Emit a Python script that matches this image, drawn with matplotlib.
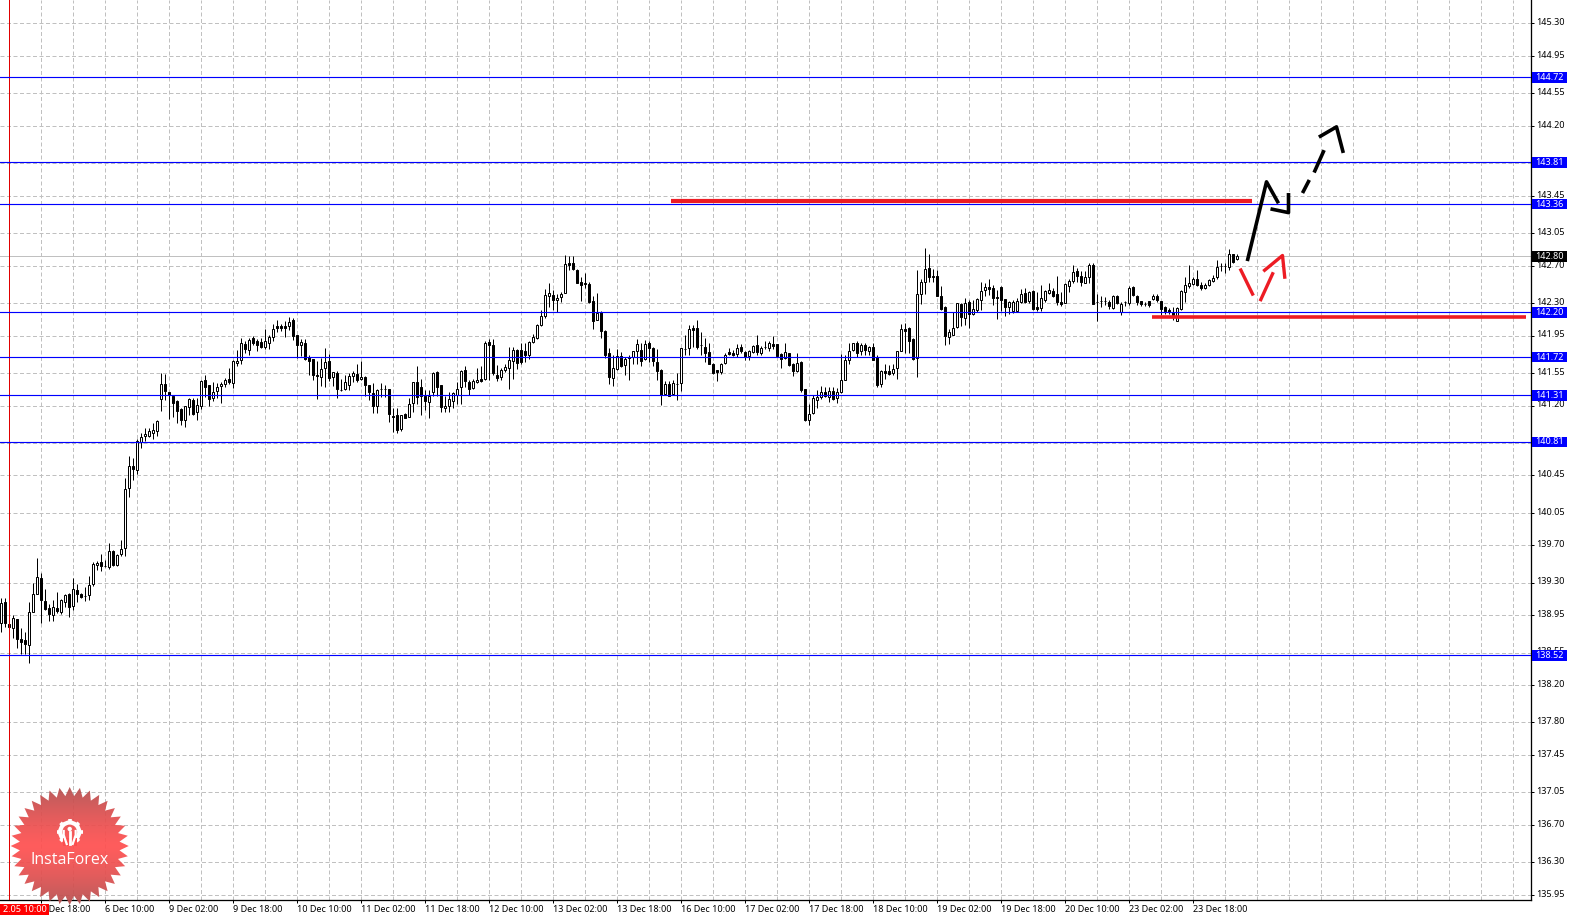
import numpy as np
import matplotlib
matplotlib.use('Agg')
import matplotlib.pyplot as plt
from matplotlib.patches import Polygon, Rectangle, Circle
from matplotlib.transforms import ScaledTranslation

plt.rcParams['font.family'] = ['Noto Sans', 'DejaVu Sans']

opens = [
    138.87,139.09,138.86,138.81,138.91,138.69,138.68,138.63,138.99,139.18,
    139.35,139.10,139.03,138.95,139.03,138.99,139.09,139.18,139.05,139.22,
    139.18,139.16,139.17,139.28,139.49,139.52,139.48,139.47,139.64,139.49,
    139.61,139.67,140.31,140.55,140.51,140.81,140.87,140.87,140.91,140.93,
    141.27,141.43,141.35,141.30,141.25,141.16,141.04,141.18,141.26,141.13,
    141.20,141.47,141.42,141.28,141.36,141.41,141.43,141.48,141.44,141.66,
    141.69,141.86,141.80,141.92,141.89,141.88,141.83,141.87,141.94,142.05,
    142.05,142.05,142.05,142.12,141.96,141.85,141.87,141.72,141.70,141.53,
    141.51,141.60,141.68,141.51,141.55,141.37,141.38,141.42,141.52,141.54,
    141.48,141.51,141.42,141.33,141.19,141.38,141.38,141.38,141.09,141.10,
    140.95,141.11,141.08,141.23,141.45,141.40,141.30,141.24,141.34,141.56,
    141.42,141.17,141.19,141.25,141.31,141.40,141.58,141.45,141.39,141.45,
    141.48,141.48,141.88,141.85,141.53,141.51,141.58,141.60,141.68,141.80,
    141.80,141.79,141.74,141.88,141.92,142.06,142.16,142.38,142.39,142.33,
    142.36,142.41,142.73,142.73,142.65,142.53,142.51,142.50,142.32,142.12,
    142.20,142.00,141.76,141.50,141.59,141.73,141.64,141.72,141.72,141.79,
    141.80,141.70,141.87,141.82,141.67,141.58,141.32,141.43,141.32,141.43,
    141.44,141.81,141.82,142.03,142.03,141.85,141.83,141.77,141.65,141.58,
    141.56,141.66,141.77,141.76,141.75,141.83,141.77,141.73,141.77,141.85,
    141.76,141.83,141.82,141.86,141.86,141.75,141.71,141.76,141.65,141.57,
    141.67,141.38,141.04,141.12,141.26,141.29,141.34,141.29,141.36,141.28,
    141.34,141.47,141.69,141.80,141.87,141.78,141.85,141.78,141.83,141.72,
    141.43,141.57,141.57,141.55,141.60,141.79,142.02,142.03,141.91,141.71,
    142.40,142.53,142.68,142.58,142.59,142.37,142.26,141.94,141.96,142.04,
    142.29,142.14,142.31,142.18,142.23,142.33,142.44,142.47,142.46,142.36,
    142.47,142.34,142.26,142.21,142.21,142.31,142.41,142.32,142.43,142.26,
    142.25,142.33,142.41,142.43,142.40,142.31,142.30,142.48,142.54,142.64,
    142.59,142.52,142.58,142.71,142.31,142.32,142.32,142.31,142.25,142.38,
    142.20,142.31,142.30,142.47,142.38,142.32,142.29,142.32,142.34,142.38,
    142.32,142.26,142.23,142.20,142.11,142.24,142.42,142.48,142.50,142.56,
    142.49,142.46,142.49,142.54,142.58,142.70,142.70,142.69,142.83,142.77,
]
highs = [
    139.13,139.14,138.97,138.95,138.91,138.81,138.77,139.09,139.30,139.56,
    139.40,139.23,139.07,139.11,139.20,139.12,139.18,139.19,139.35,139.28,
    139.19,139.25,139.37,139.52,139.53,139.61,139.54,139.72,139.65,139.61,
    139.76,140.42,140.66,140.64,140.84,140.91,140.96,140.96,141.01,141.05,
    141.55,141.54,141.35,141.30,141.26,141.17,141.20,141.28,141.28,141.28,
    141.47,141.53,141.42,141.45,141.44,141.45,141.50,141.60,141.69,141.80,
    141.92,141.89,141.92,141.95,141.91,141.92,142.02,141.96,142.07,142.12,
    142.07,142.11,142.15,142.14,141.96,141.91,141.91,141.74,141.70,141.68,
    141.71,141.82,141.75,141.56,141.57,141.49,141.53,141.55,141.57,141.65,
    141.68,141.52,141.42,141.44,141.38,141.44,141.42,141.38,141.17,141.17,
    141.10,141.12,141.28,141.45,141.62,141.49,141.37,141.37,141.56,141.57,
    141.42,141.30,141.35,141.34,141.45,141.58,141.62,141.47,141.48,141.60,
    141.62,141.89,141.91,141.91,141.64,141.60,141.65,141.83,141.83,141.81,
    141.87,141.87,141.89,141.97,142.08,142.23,142.45,142.51,142.44,142.40,
    142.42,142.81,142.80,142.80,142.67,142.58,142.62,142.53,142.37,142.41,
    142.21,142.01,141.82,141.74,141.81,141.77,141.72,141.74,141.78,141.91,
    141.87,141.90,141.89,141.83,141.81,141.59,141.46,141.46,141.47,141.55,
    141.82,141.96,142.06,142.06,142.12,141.99,141.92,141.87,141.66,141.58,
    141.66,141.76,141.82,141.80,141.86,141.86,141.78,141.80,141.85,141.96,
    141.84,141.89,141.89,141.95,141.86,141.76,141.87,141.76,141.66,141.76,
    141.68,141.38,141.22,141.31,141.37,141.41,141.40,141.40,141.40,141.39,
    141.75,141.74,141.87,141.87,141.89,141.87,141.87,141.84,141.87,141.74,
    141.58,141.65,141.63,141.65,141.79,142.08,142.09,142.04,141.92,142.65,
    142.56,142.89,142.83,142.67,142.65,142.48,142.27,142.02,142.20,142.30,
    142.30,142.35,142.33,142.33,142.35,142.53,142.51,142.56,142.49,142.44,
    142.48,142.34,142.32,142.33,142.35,142.45,142.46,142.43,142.44,142.42,
    142.49,142.44,142.51,142.46,142.59,142.42,142.51,142.56,142.71,142.68,
    142.64,142.64,142.73,142.73,142.40,142.37,142.36,142.33,142.39,142.39,
    142.31,142.32,142.48,142.48,142.39,142.32,142.31,142.32,142.40,142.40,
    142.32,142.27,142.25,142.26,142.26,142.44,142.58,142.71,142.58,142.65,
    142.53,142.51,142.56,142.60,142.76,142.73,142.73,142.88,142.83,142.83,
]
lows = [
    138.77,138.82,138.81,138.71,138.60,138.53,138.53,138.44,138.99,139.18,
    138.87,139.01,138.89,138.89,138.97,138.96,139.04,138.93,139.01,139.09,
    139.13,139.10,139.11,139.26,139.44,139.42,139.47,139.45,139.48,139.48,
    139.59,139.59,140.22,140.40,140.47,140.74,140.82,140.86,140.84,140.87,
    141.14,141.26,141.06,141.08,141.01,140.99,140.97,141.10,141.10,141.04,
    141.16,141.29,141.20,141.25,141.28,141.23,141.40,141.43,141.39,141.62,
    141.65,141.76,141.74,141.85,141.78,141.82,141.81,141.81,141.89,141.99,
    142.00,141.94,142.01,141.90,141.71,141.73,141.69,141.53,141.47,141.27,
    141.41,141.40,141.46,141.41,141.28,141.36,141.37,141.37,141.45,141.45,
    141.47,141.30,141.26,141.12,141.12,141.29,141.29,141.02,140.92,140.91,
    140.93,141.07,141.08,141.13,141.22,141.10,141.15,141.07,141.30,141.30,
    141.13,141.13,141.13,141.17,141.22,141.22,141.40,141.31,141.38,141.44,
    141.45,141.47,141.47,141.53,141.46,141.47,141.56,141.38,141.49,141.59,
    141.65,141.67,141.70,141.87,141.91,142.05,142.14,142.26,142.22,142.20,
    142.31,142.41,142.65,142.65,142.51,142.32,142.46,142.30,142.02,142.12,
    141.92,141.71,141.43,141.41,141.58,141.61,141.53,141.47,141.65,141.65,
    141.62,141.69,141.67,141.62,141.47,141.21,141.31,141.30,141.31,141.26,
    141.36,141.74,141.74,141.83,141.81,141.74,141.67,141.65,141.54,141.46,
    141.54,141.65,141.74,141.73,141.72,141.76,141.69,141.69,141.76,141.74,
    141.74,141.81,141.78,141.81,141.72,141.60,141.70,141.62,141.52,141.56,
    141.35,141.03,140.99,141.11,141.17,141.27,141.29,141.24,141.26,141.23,
    141.33,141.47,141.65,141.79,141.72,141.74,141.74,141.74,141.69,141.40,
    141.40,141.49,141.53,141.53,141.49,141.78,141.76,141.76,141.69,141.51,
    142.29,142.40,142.53,142.53,142.38,142.22,141.85,141.86,141.96,142.03,
    142.05,142.06,142.03,142.17,142.20,142.22,142.37,142.39,142.28,142.13,
    142.21,142.16,142.18,142.19,142.20,142.30,142.30,142.30,142.22,142.21,
    142.21,142.31,142.40,142.36,142.28,142.27,142.30,142.42,142.52,142.53,
    142.48,142.51,142.51,142.29,142.11,142.26,142.28,142.24,142.24,142.29,
    142.17,142.27,142.28,142.38,142.28,142.27,142.27,142.26,142.33,142.31,
    142.17,142.18,142.18,142.12,142.11,142.22,142.31,142.46,142.49,142.48,
    142.44,142.45,142.48,142.53,142.56,142.64,142.62,142.65,142.73,142.76,
]
closes = [
    139.08,138.87,138.82,138.92,138.70,138.66,138.64,138.98,139.18,139.36,
    139.11,139.02,138.96,139.04,139.00,139.11,139.17,139.04,139.23,139.18,
    139.15,139.16,139.27,139.50,139.51,139.48,139.48,139.64,139.49,139.60,
    139.66,140.30,140.55,140.52,140.82,140.86,140.89,140.93,140.94,141.03,
    141.43,141.36,141.31,141.23,141.14,141.04,141.19,141.27,141.11,141.21,
    141.46,141.40,141.27,141.35,141.40,141.43,141.47,141.45,141.68,141.68,
    141.87,141.81,141.90,141.87,141.85,141.83,141.89,141.93,142.02,142.03,
    142.03,142.03,142.10,141.95,141.85,141.88,141.70,141.68,141.53,141.52,
    141.59,141.67,141.50,141.56,141.38,141.37,141.45,141.52,141.55,141.47,
    141.51,141.42,141.34,141.19,141.37,141.38,141.38,141.11,141.08,140.94,
    141.10,141.07,141.22,141.45,141.29,141.30,141.25,141.30,141.55,141.40,
    141.18,141.20,141.27,141.33,141.38,141.57,141.46,141.38,141.46,141.47,
    141.46,141.87,141.85,141.55,141.50,141.58,141.61,141.69,141.80,141.66,
    141.67,141.74,141.88,141.93,142.06,142.16,142.39,142.41,142.33,142.35,
    142.40,142.72,142.71,142.66,142.52,142.49,142.50,142.31,142.11,142.19,
    142.00,141.74,141.51,141.60,141.73,141.62,141.70,141.71,141.78,141.86,
    141.68,141.86,141.82,141.68,141.57,141.31,141.43,141.30,141.44,141.43,
    141.82,141.81,142.02,142.01,141.83,141.85,141.76,141.65,141.55,141.56,
    141.65,141.74,141.75,141.74,141.82,141.78,141.72,141.78,141.84,141.77,
    141.82,141.83,141.87,141.84,141.73,141.70,141.77,141.63,141.57,141.66,
    141.37,141.04,141.11,141.28,141.29,141.35,141.30,141.36,141.27,141.34,
    141.47,141.69,141.79,141.87,141.76,141.85,141.80,141.83,141.69,141.42,
    141.57,141.55,141.54,141.59,141.78,142.02,142.00,141.89,141.70,142.40,
    142.53,142.67,142.58,142.59,142.38,142.24,141.95,141.99,142.03,142.30,
    142.15,142.30,142.18,142.24,142.34,142.43,142.47,142.45,142.35,142.35,
    142.33,142.26,142.31,142.31,142.32,142.40,142.31,142.42,142.24,142.24,
    142.35,142.43,142.44,142.38,142.31,142.29,142.50,142.54,142.63,142.59,
    142.53,142.58,142.71,142.29,142.31,142.32,142.32,142.27,142.38,142.30,
    142.29,142.31,142.46,142.39,142.31,142.29,142.29,142.28,142.38,142.33,
    142.24,142.21,142.20,142.17,142.25,142.43,142.49,142.52,142.56,142.49,
    142.46,142.49,142.55,142.57,142.69,142.70,142.70,142.83,142.74,142.80,
]

# horizontal levels with a price box on the right
levels = [144.72, 143.81, 143.36, 142.20, 141.72, 141.31, 140.81, 138.52]
last_price = 142.80

y_ticks = [145.30, 144.95, 144.55, 144.20, 143.80, 143.45, 143.05, 142.70, 142.30,
           141.95, 141.55, 141.20, 140.80, 140.45, 140.05, 139.70, 139.30, 138.95,
           138.55, 138.20, 137.80, 137.45, 137.05, 136.70, 136.30, 135.95]
hidden_ticks = [143.80, 140.80]  # sit behind the level boxes

time_labels = ['5 Dec 18:00', '6 Dec 10:00', '9 Dec 02:00', '9 Dec 18:00', '10 Dec 10:00',
               '11 Dec 02:00', '11 Dec 18:00', '12 Dec 10:00', '13 Dec 02:00', '13 Dec 18:00',
               '16 Dec 10:00', '17 Dec 02:00', '17 Dec 18:00', '18 Dec 10:00', '19 Dec 02:00',
               '19 Dec 18:00', '20 Dec 10:00', '23 Dec 02:00', '23 Dec 18:00']

# hand drawn forecast strokes: (bars, prices)
black_strokes = [
    ([311.5, 316.3, 319.3], [142.75, 143.60, 143.37]),
    ([317.3, 321.8, 321.8], [143.31, 143.27, 143.48]),
    ([325.3, 327.0], [143.48, 143.62]),
    ([328.2, 330.7], [143.70, 143.94]),
    ([329.4, 333.8, 335.5], [144.08, 144.19, 143.91]),
]
red_strokes = [
    ([309.7, 313.0], [142.67, 142.38]),
    ([314.7, 318.0], [142.32, 142.63]),
    ([315.5, 320.3, 320.9], [142.64, 142.81, 142.56]),
]
red_levels = [(167.4, 312.7, 143.39, 3.0), (287.7, 381.2, 142.146, 2.6)]

W, H = 1581, 917
PX = 0.72  # one pixel in points at dpi 100
fig = plt.figure(figsize=(W / 100, H / 100), dpi=100, facecolor='white')
ax = fig.add_axes([0, (H - 900) / H, 1530.7 / W, 900 / H])
ax.set_xlim(-0.325, 382.35)
ax.set_ylim(135.895, 145.551)
ax.set_axisbelow(True)

bars = np.arange(len(opens))
o = np.array(opens)
c = np.array(closes)

ax.vlines(bars, lows, highs, color='black', lw=PX, zorder=3)
up = c >= o
ax.bar(bars[up], (c - o)[up], bottom=o[up], width=0.5, facecolor='white', edgecolor='black',
       linewidth=PX, zorder=3.1)
ax.bar(bars[~up], (c - o)[~up], bottom=o[~up], width=0.5, facecolor='black', edgecolor='black',
       linewidth=PX, zorder=3.1)

# grid
grid_bars = np.arange(2, 380, 8)
label_bars = np.arange(10, 10 + 16 * len(time_labels), 16)
ax.set_xticks(label_bars)
ax.set_xticklabels(time_labels, ha='left', fontsize=6.5)
ax.set_xticks(grid_bars, minor=True)
ax.set_yticks(y_ticks)
ax.set_yticklabels(['' if t in hidden_ticks else f'{t:.2f}' for t in y_ticks], fontsize=6.5)
ax.yaxis.tick_right()
ax.tick_params(axis='x', which='major', length=2.2, width=PX, pad=1.5)
ax.tick_params(axis='x', which='minor', length=0)
ax.tick_params(axis='y', length=2.4, width=PX, pad=1.5)
ax.grid(True, which='both', color='#c0c0c0', lw=PX, linestyle=(0, (4, 2.5)))
for side in ['top', 'left']:
    ax.spines[side].set_visible(False)
for side in ['bottom', 'right']:
    ax.spines[side].set_linewidth(PX * 1.3)

# nudge the price labels up a little, they sit above their grid line
up_shift = ScaledTranslation(0, 1.2 / 72, fig.dpi_scale_trans)
for lab in ax.get_yticklabels():
    lab.set_transform(lab.get_transform() + up_shift)

ax.axhline(last_price, color='#c0c0c0', lw=PX, zorder=2)
ax.axvline(2, color='#e00000', lw=PX, zorder=4)

trans = ax.get_yaxis_transform()
box_w = 35 / 1530.7
box_h = 10.5 / 93.2
for lvl in levels:
    ax.axhline(lvl, color='#0000ff', lw=PX * 1.15, zorder=4)
    ax.add_patch(Rectangle((1.001, lvl - box_h / 2), box_w, box_h, transform=trans, facecolor='#0000ff',
                           edgecolor='none', clip_on=False, zorder=6))
    ax.text(1.0122, lvl, f'{lvl:.2f}', transform=trans, color='white', fontsize=6.5, ha='center',
            va='center', clip_on=False, zorder=7)
ax.add_patch(Rectangle((1.001, last_price - box_h / 2), box_w, box_h, transform=trans, facecolor='black',
                       edgecolor='none', clip_on=False, zorder=6))
ax.text(1.0122, last_price, f'{last_price:.2f}', transform=trans, color='white', fontsize=6.5, ha='center',
        va='center', clip_on=False, zorder=7)

for x0, x1, y, lw in red_levels:
    ax.plot([x0, x1], [y, y], color='#ed1c24', lw=lw, solid_capstyle='butt', zorder=5)
for xs, ys in black_strokes:
    ax.plot(xs, ys, color='black', lw=2.6, solid_capstyle='butt', zorder=5)
for xs, ys in red_strokes:
    ax.plot(xs, ys, color='#ed1c24', lw=2.4, solid_capstyle='butt', zorder=5)

# overlay in pixel coordinates for the cut off date box and the logo
ov = fig.add_axes([0, 0, 1, 1], facecolor='none')
ov.set_xlim(0, W)
ov.set_ylim(H, 0)
ov.axis('off')

ov.add_patch(Rectangle((0, 904), 49, 11, facecolor='#ff0000', edgecolor='none', zorder=2))
ov.text(47, 909.5, '2.05 10:00', color='white', fontsize=6.5, ha='right', va='center', zorder=3)

cx, cy = 69.7, 846
angles = np.linspace(0, 2 * np.pi, 72, endpoint=False)
radius = np.where(np.arange(72) % 2 == 0, 59, 50)
star = np.column_stack([cx + radius * np.cos(angles), cy + radius * np.sin(angles)])
shade = np.abs(np.linspace(-1, 1, 256))[:, None] ** 1.3
rgba = np.zeros((256, 1, 4))
rgba[..., 0] = 1.0 - 0.30 * shade
rgba[..., 1] = 0.31
rgba[..., 2] = 0.31
rgba[..., 3] = 0.93
img = ov.imshow(rgba, extent=(cx - 60, cx + 60, cy + 60, cy - 60), aspect='auto', zorder=4)
ov.set_xlim(0, W)
ov.set_ylim(H, 0)
clip = Polygon(star, closed=True, transform=ov.transData, facecolor='none', edgecolor='none')
ov.add_patch(clip)
img.set_clip_path(clip)

gx, gy = 69.7, 832
ov.add_patch(Circle((gx, gy), 9.5, facecolor='none', edgecolor='white', lw=3, zorder=5))
for a in np.linspace(0, 2 * np.pi, 8, endpoint=False):
    ov.plot([gx + 10 * np.cos(a), gx + 13 * np.cos(a)], [gy + 10 * np.sin(a), gy + 13 * np.sin(a)],
            color='white', lw=2.6, solid_capstyle='butt', zorder=5)
ov.add_patch(Rectangle((gx - 7, gy + 6), 14, 8, facecolor='#fb4f4f', edgecolor='none', zorder=5.1))
ov.add_patch(Circle((gx, gy - 3), 2.2, facecolor='white', edgecolor='none', zorder=5.2))
ov.plot([gx, gx], [gy, gy + 12], color='white', lw=2, zorder=5.2)
ov.plot([gx - 6, gx - 6, gx - 3], [gy - 1, gy + 3, gy + 12], color='white', lw=1.6, zorder=5.2)
ov.plot([gx + 6, gx + 6, gx + 3], [gy - 1, gy + 3, gy + 12], color='white', lw=1.6, zorder=5.2)
ov.text(cx, 859.5, 'InstaForex', color='white', fontsize=11.5, family='Open Sans', ha='center', va='center', zorder=6)

fig.savefig('out.png', dpi=100)
